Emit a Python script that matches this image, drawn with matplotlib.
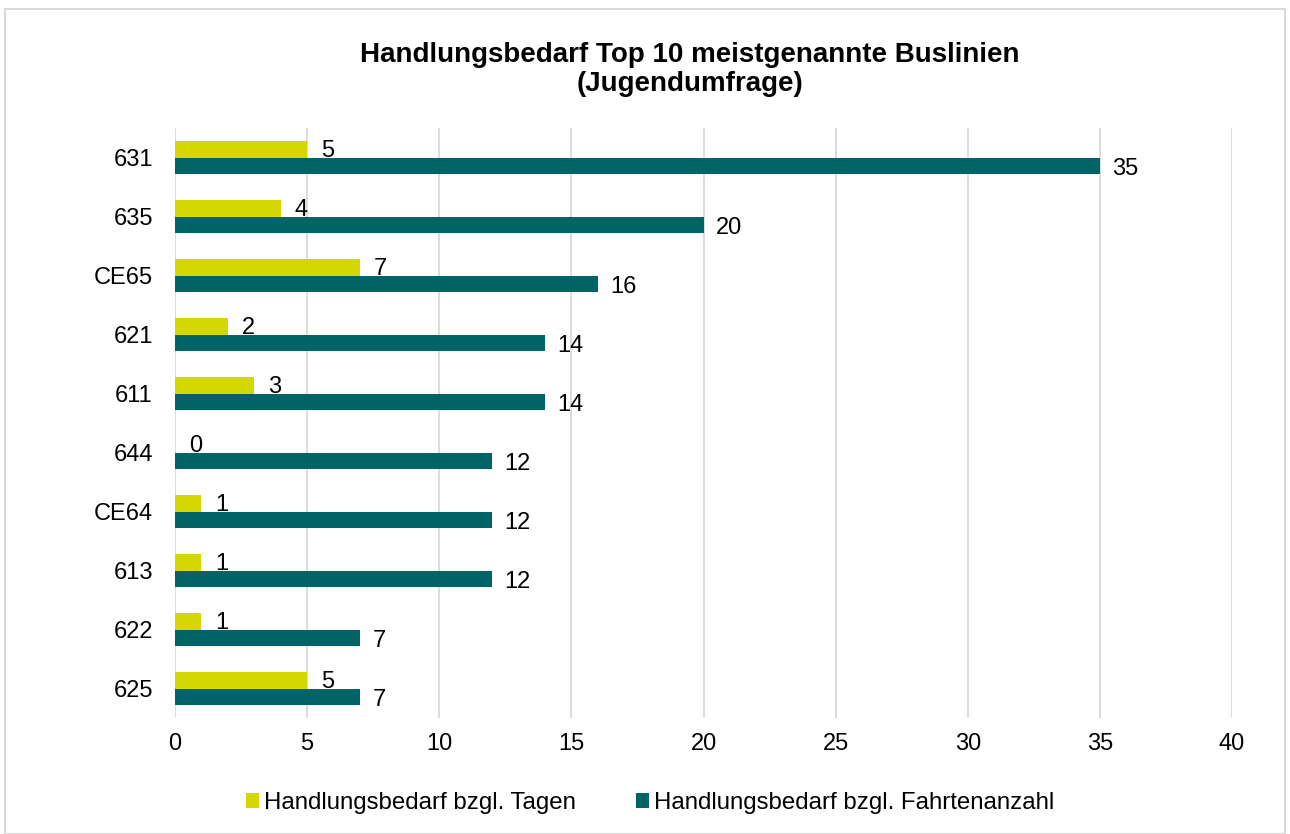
import numpy as np
import matplotlib.pyplot as plt
from matplotlib.patches import Rectangle

plt.rcParams['font.family'] = ['Liberation Sans', 'DejaVu Sans']

# Top 10 bus lines, top to bottom as shown
lines = ['631', '635', 'CE65', '621', '611', '644', 'CE64', '613', '622', '625']
tagen = [5, 4, 7, 2, 3, 0, 1, 1, 1, 5]
fahrten = [35, 20, 16, 14, 14, 12, 12, 12, 7, 7]

col_tagen = '#d4d700'
col_fahrten = '#006466'

fig = plt.figure(figsize=(12.9, 8.34), dpi=100)
ax = fig.add_axes([0.1357, 0.139, 0.8193, 0.7075])

# outer frame of the chart
fig.patches.append(Rectangle((0.004, 0.0), 0.992, 0.989, transform=fig.transFigure,
                             fill=False, edgecolor='#d9d9d9', linewidth=1.5))

y = np.arange(len(lines))
h = 0.28
ax.barh(y - h / 2, tagen, height=h, color=col_tagen, label='Handlungsbedarf bzgl. Tagen', zorder=3)
ax.barh(y + h / 2, fahrten, height=h, color=col_fahrten, label='Handlungsbedarf bzgl. Fahrtenanzahl', zorder=3)

for yi, v in zip(y, tagen):
    ax.annotate(str(v), (v, yi - h / 2), xytext=(10, -1), textcoords='offset points',
                ha='left', va='center', fontsize=17, color='#000000', zorder=4)
for yi, v in zip(y, fahrten):
    ax.annotate(str(v), (v, yi + h / 2), xytext=(9, -2), textcoords='offset points',
                ha='left', va='center', fontsize=17, color='#000000', zorder=4)

ax.set_xlim(0, 40)
ax.set_ylim(len(lines) - 0.5, -0.5)
ax.set_xticks(range(0, 41, 5))
ax.set_yticks(y)
ax.set_yticklabels(lines)
ax.tick_params(length=0, labelsize=17, colors='#000000')
ax.tick_params(axis='y', pad=16)
ax.tick_params(axis='x', pad=11)
ax.grid(axis='x', color='#d9d9d9', linewidth=1.3, zorder=0)
for s in ax.spines.values():
    s.set_visible(False)

fig.text(0.5345, 0.917, 'Handlungsbedarf Top 10 meistgenannte Buslinien\n(Jugendumfrage)',
         ha='center', va='center', fontsize=20, fontweight='bold', linespacing=1.15)

fig.legend(loc='center', bbox_to_anchor=(0.504, 0.037), ncol=2, frameon=False,
           fontsize=17.3, handlelength=0.55, handleheight=0.55, handletextpad=0.2,
           columnspacing=2.5)

fig.savefig('out.png', dpi=100)
